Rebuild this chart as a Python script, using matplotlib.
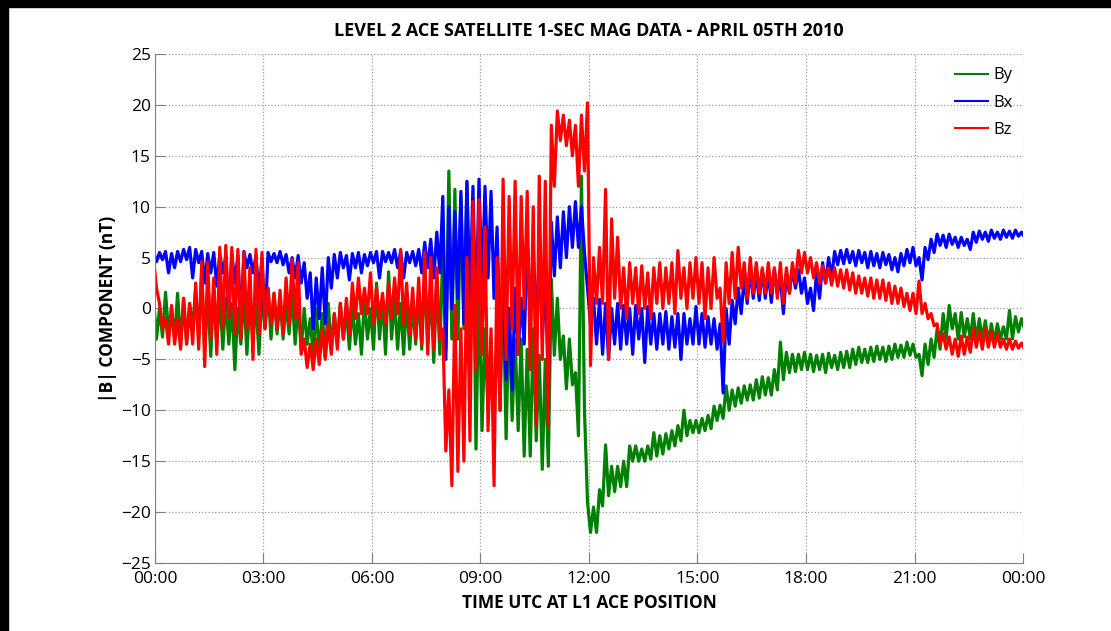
import matplotlib
matplotlib.use("Agg")
import matplotlib.pyplot as plt
from matplotlib.patches import Rectangle
import numpy as np

plt.rcParams['font.family'] = ['Open Sans', 'DejaVu Sans']

# 10-minute bins, 00:00 -> 24:00 (145 bins); for every bin the upper and
# lower edge of the noisy 1-sec trace (nT)
hours = np.arange(145) / 6.0

bx_hi = [5.6, 5.5, 5.6, 5.4, 5.6, 5.8, 6.0, 5.8, 5.6, 5.4, 5.5, 5.3,
         5.2, 5.4, 5.2, 5.6, 5.3, 5.2, 5.0, 5.5, 5.4, 5.6, 5.3, 5.0,
         5.2, 4.5, 3.5, 3.0, 4.0, 5.0, 5.3, 5.5, 5.2, 5.4, 5.5, 5.3,
         5.5, 5.6, 5.6, 5.5, 5.8, 5.6, 5.5, 5.6, 5.8, 6.5, 6.8, 7.5,
         11.0, 10.0, 9.5, 11.5, 12.5, 12.0, 12.7, 12.0, 11.5, 8.0, 2.0, 0.0,
         2.0, 1.0, 6.8, 6.0, 5.0, 3.0, 8.5, 9.0, 9.5, 10.0, 10.5, 10.0,
         2.0, 1.0, 0.9, 0.5, 0.0, 0.5, 0.3, 0.0, 0.3, 0.0, 0.2, -0.5,
         -0.5, -0.3, -0.8, -0.5, -0.5, -1.0, 0.2, -0.5, -0.8, -1.0, -1.5, 0.0,
         0.8, 2.0, 3.0, 3.8, 3.5, 3.8, 3.5, 3.8, 3.0, 3.5, 3.9, 3.8,
         3.0, 2.0, 3.5, 4.5, 5.0, 5.6, 5.7, 5.8, 5.6, 5.7, 5.5, 5.6,
         5.4, 5.5, 5.3, 5.0, 5.4, 5.8, 6.0, 5.0, 6.0, 6.8, 7.3, 7.2,
         7.3, 7.0, 7.0, 6.8, 7.5, 7.6, 7.5, 7.7, 7.5, 7.7, 7.6, 7.7, 7.5]
bx_lo = [4.6, 4.8, 3.5, 4.0, 4.6, 4.8, 3.0, 4.5, 2.5, 3.5, 2.2, 3.5,
         -0.8, 2.5, -1.7, 4.0, 3.5, 1.3, -1.9, 4.6, 4.5, 4.3, 3.5, 3.0,
         2.5, 1.0, -2.0, -1.0, -1.5, 2.0, 3.0, 4.0, 2.8, 4.0, 3.5, 4.2,
         4.5, 3.0, 4.6, 4.5, 4.0, 3.0, 4.5, 4.2, 3.5, 4.0, 3.0, 3.5,
         -5.0, 0.0, 1.0, -1.5, 0.5, -1.5, 2.0, 3.0, 1.0, -3.0, -7.0, -8.0,
         -4.5, -3.5, -1.0, -1.5, -3.0, -7.0, 3.2, 4.0, 5.0, 6.0, 6.0, 5.5,
         -1.5, -3.5, -4.5, -5.0, -3.5, -4.0, -3.5, -4.5, -3.0, -5.3, -3.5, -4.0,
         -3.5, -4.0, -3.8, -5.0, -3.5, -3.5, -3.5, -3.8, -3.5, -4.0, -8.3, -3.5,
         -1.5, -0.5, 0.5, 1.0, 0.8, 1.0, 0.6, 1.5, -0.5, 1.5, 2.0, 1.5,
         0.5, -0.2, 1.0, 2.5, 3.0, 4.3, 4.4, 4.5, 4.2, 4.5, 4.0, 4.2,
         4.0, 4.3, 3.8, 3.6, 4.2, 4.5, 4.2, 2.8, 4.8, 5.5, 6.2, 6.0,
         6.3, 6.0, 6.2, 5.8, 6.5, 6.8, 6.6, 6.9, 6.8, 7.0, 6.9, 7.1, 7.0]

by_hi = [1.0, 0.0, 1.6, 0.0, 1.5, 1.0, 0.5, 1.9, 3.5, 1.5, 2.0, 1.3,
         1.0, 0.5, 0.0, 1.5, 1.0, 0.5, 1.5, 2.0, 1.5, 1.0, 0.5, 1.5,
         0.5, 0.0, -1.0, 0.0, -0.5, 0.5, -0.5, 0.5, 0.0, 0.3, -0.5, 1.0,
         0.0, 2.5, 1.0, 3.6, 1.0, 0.5, 1.0, 0.5, 1.5, 3.2, 2.0, 3.0,
         6.0, 13.5, 11.7, 11.0, 12.4, 10.0, 3.0, -2.0, -3.0, -1.0, 2.5, 0.0,
         -3.0, -3.0, -4.0, -2.0, -4.6, -5.0, 2.9, 1.0, -2.7, -3.0, -6.3, 13.0,
         -19.0, -19.5, -17.8, -13.4, -15.5, -15.5, -15.0, -13.5, -13.5, -13.8, -13.5, -12.2,
         -12.5, -12.3, -12.0, -11.5, -10.0, -11.0, -11.0, -10.8, -10.5, -9.6, -9.5, -7.6,
         -8.0, -7.8, -7.6, -7.5, -7.0, -6.7, -6.8, -6.0, -3.3, -4.3, -4.5, -4.5,
         -4.3, -4.5, -4.6, -4.5, -4.4, -4.6, -4.3, -4.2, -4.0, -3.8, -4.0, -3.8,
         -3.7, -3.8, -3.7, -3.5, -3.6, -3.3, -3.5, -4.5, -3.5, -3.0, -2.0, -0.5,
         0.3, -0.5, -0.4, -1.0, -0.5, -1.0, -1.2, -1.5, -1.5, -1.8, -0.2, -0.8, -1.0]
by_lo = [-3.0, -2.8, -2.5, -3.0, -3.5, -3.5, -2.0, -3.0, -4.0, -4.7, -3.5, -4.0,
         -3.5, -6.0, -3.5, -4.5, -3.0, -4.5, -2.0, -3.0, -2.5, -3.0, -2.5, -3.5,
         -4.0, -3.5, -4.5, -4.5, -4.8, -4.0, -3.5, -3.0, -4.0, -3.5, -4.5, -3.0,
         -4.0, -3.0, -4.5, -3.0, -4.0, -4.5, -4.0, -3.5, -4.0, -3.5, -5.3, -4.5,
         -4.0, -3.0, -3.0, -2.0, -5.0, -13.8, -12.0, -10.0, -12.0, -10.0, -12.8, -11.0,
         -12.0, -14.5, -14.5, -13.0, -15.8, -15.5, -4.6, -5.0, -7.9, -7.5, -12.5, -10.0,
         -22.0, -22.0, -19.4, -18.4, -18.0, -17.5, -17.5, -15.0, -15.0, -15.0, -14.8, -14.5,
         -14.3, -13.8, -13.5, -13.0, -12.5, -12.2, -12.2, -12.0, -11.8, -11.0, -10.8, -10.0,
         -9.6, -9.3, -9.0, -9.0, -8.8, -8.5, -8.5, -8.0, -7.0, -6.3, -6.2, -6.0,
         -6.0, -6.2, -6.0, -6.3, -5.8, -6.0, -5.8, -5.8, -5.5, -5.3, -5.3, -5.2,
         -5.0, -5.2, -5.0, -4.8, -4.8, -4.6, -4.8, -6.6, -5.5, -4.8, -4.0, -3.0,
         -2.0, -3.0, -2.8, -3.0, -3.2, -3.0, -3.3, -3.3, -3.0, -3.0, -3.0, -2.3, -2.0]

bz_hi = [5.0, 0.5, -1.0, 0.3, -1.0, 1.0, 0.5, 2.5, 4.6, 4.5, 3.0, 6.0,
         6.2, 6.0, 5.8, 5.5, 4.0, 5.8, 5.5, 2.0, 1.5, 1.8, 3.0, 4.8,
         4.5, -3.0, -3.5, -3.0, -2.0, -1.5, -0.5, 0.5, 1.0, 2.5, 3.0, 2.0,
         3.5, 2.0, 1.5, 2.5, 3.0, 5.8, 2.5, 2.0, 3.0, 5.5, 5.0, 4.0,
         -2.0, -8.0, 0.3, -2.0, 5.0, 10.5, 10.7, 8.0, -2.0, 5.0, 12.7, 11.0,
         12.5, 11.0, 11.5, 10.0, 13.0, 12.5, 18.0, 19.4, 19.0, 18.5, 18.0, 19.0,
         20.2, 5.0, 6.0, 11.7, 8.8, 7.0, 4.0, 4.5, 4.0, 4.2, 3.5, 4.0,
         4.5, 4.0, 4.5, 5.7, 4.0, 4.5, 5.0, 4.5, 4.0, 5.0, 2.0, 4.5,
         5.5, 6.0, 4.5, 5.0, 4.5, 4.0, 4.5, 4.0, 4.5, 4.0, 4.5, 5.7,
         5.5, 5.0, 4.5, 4.2, 4.0, 4.0, 3.8, 3.8, 3.5, 3.2, 3.0, 3.0,
         2.8, 2.8, 2.5, 2.2, 2.0, 1.5, 1.5, 2.7, 0.5, -0.5, -1.5, -2.5,
         -2.8, -3.0, -2.7, -2.8, -2.0, -2.2, -2.0, -2.3, -2.5, -3.0, -3.0, -3.2, -3.4]
bz_lo = [2.0, -2.0, -3.5, -3.5, -4.0, -3.5, -3.5, -4.0, -5.7, -3.0, -4.5, -2.0,
         -1.0, -2.5, -3.0, -2.0, -5.0, -2.5, -2.0, -1.5, -2.0, -2.5, -1.5, -1.0,
         -4.5, -5.8, -6.0, -5.5, -5.0, -4.5, -4.0, -3.0, -2.5, -1.0, -0.5, -0.5,
         -1.5, -1.0, -1.5, -1.0, -0.5, -1.5, -2.5, -3.0, -3.5, -4.5, -4.0, -3.0,
         -14.0, -17.4, -16.0, -15.0, -13.0, -6.0, -4.5, -12.0, -17.4, -10.0, -5.0, -2.0,
         -4.5, 0.0, -6.0, -11.5, -5.0, -11.5, 12.0, 16.5, 16.0, 15.0, 12.0, 13.5,
         -5.6, 0.5, 0.5, -5.0, 1.0, 0.0, -1.0, 0.5, -0.5, 0.0, -1.0, 0.5,
         0.0, 0.5, -0.5, 1.0, 0.0, 1.0, 0.5, -1.0, 0.0, 1.0, -3.3, 0.5,
         1.0, 2.0, 1.0, 1.5, 1.5, 1.5, 1.5, 1.0, 0.5, 1.5, 2.5, 3.5,
         3.5, 3.0, 2.5, 2.5, 2.3, 2.2, 2.0, 1.8, 1.5, 1.5, 1.2, 1.0,
         1.0, 0.8, 0.5, 0.5, 0.2, -0.2, -0.5, -0.5, -1.0, -1.7, -3.5, -4.0,
         -4.5, -4.7, -4.5, -4.3, -3.8, -4.0, -3.8, -3.8, -3.8, -4.0, -4.0, -3.9, -4.0]

tick_hours = [0, 3, 6, 9, 12, 15, 18, 21, 24]
tick_labels = ['00:00', '03:00', '06:00', '09:00', '12:00',
               '15:00', '18:00', '21:00', '00:00']


def trace(hi, lo):
    # upper edge early in the bin, lower edge late in the bin
    t = np.column_stack([hours - 1 / 24, hours + 1 / 24]).ravel()
    v = np.column_stack([hi, lo]).ravel()
    return t, v


fig = plt.figure(figsize=(11.11, 6.31), dpi=100)
ax = fig.add_axes([0.1395, 0.1078, 0.7813, 0.8066])

ax.plot(*trace(by_hi, by_lo), color='#008000', lw=2.3, label='By')
ax.plot(*trace(bx_hi, bx_lo), color='#0000ff', lw=2.3, label='Bx')
ax.plot(*trace(bz_hi, bz_lo), color='#ff0000', lw=2.3, label='Bz')

ax.set_xlim(0, 24)
ax.set_ylim(-25, 25)
ax.set_xticks(tick_hours)
ax.set_xticklabels(tick_labels)
ax.set_yticks(np.arange(-25, 26, 5))

ax.grid(True, color='#9a9a9a', linestyle=':', linewidth=0.9)
ax.set_axisbelow(True)
for s in ['top', 'right']:
    ax.spines[s].set_visible(False)
for s in ['left', 'bottom']:
    ax.spines[s].set_color('#808080')
ax.tick_params(direction='in', length=7, color='#808080', labelsize=12.5)
ax.tick_params(axis='x', pad=6)
ax.tick_params(axis='y', pad=3)

ax.set_title('LEVEL 2 ACE SATELLITE 1-SEC MAG DATA - APRIL 05TH 2010',
             fontsize=13, fontweight='bold', pad=13)
ax.set_xlabel('TIME UTC AT L1 ACE POSITION', fontsize=12.5,
              fontweight='bold', labelpad=5)
ax.set_ylabel('|B| COMPONENT (nT)', fontsize=12.5, fontweight='bold',
              labelpad=3)

leg = ax.legend(loc='upper right', frameon=False, fontsize=12,
                handlelength=2.0, handletextpad=0.3, labelspacing=0.68,
                bbox_to_anchor=(1.005, 1.003))
for line in leg.get_lines():
    line.set_linewidth(1.5)

# black frame strips on the left and top edge
fig.add_artist(Rectangle((0, 0), 8 / 1111, 1, transform=fig.transFigure,
                         color='black', zorder=10))
fig.add_artist(Rectangle((0, 1 - 7 / 631), 1, 7 / 631,
                         transform=fig.transFigure, color='black', zorder=10))

fig.savefig('out.png', dpi=100)
